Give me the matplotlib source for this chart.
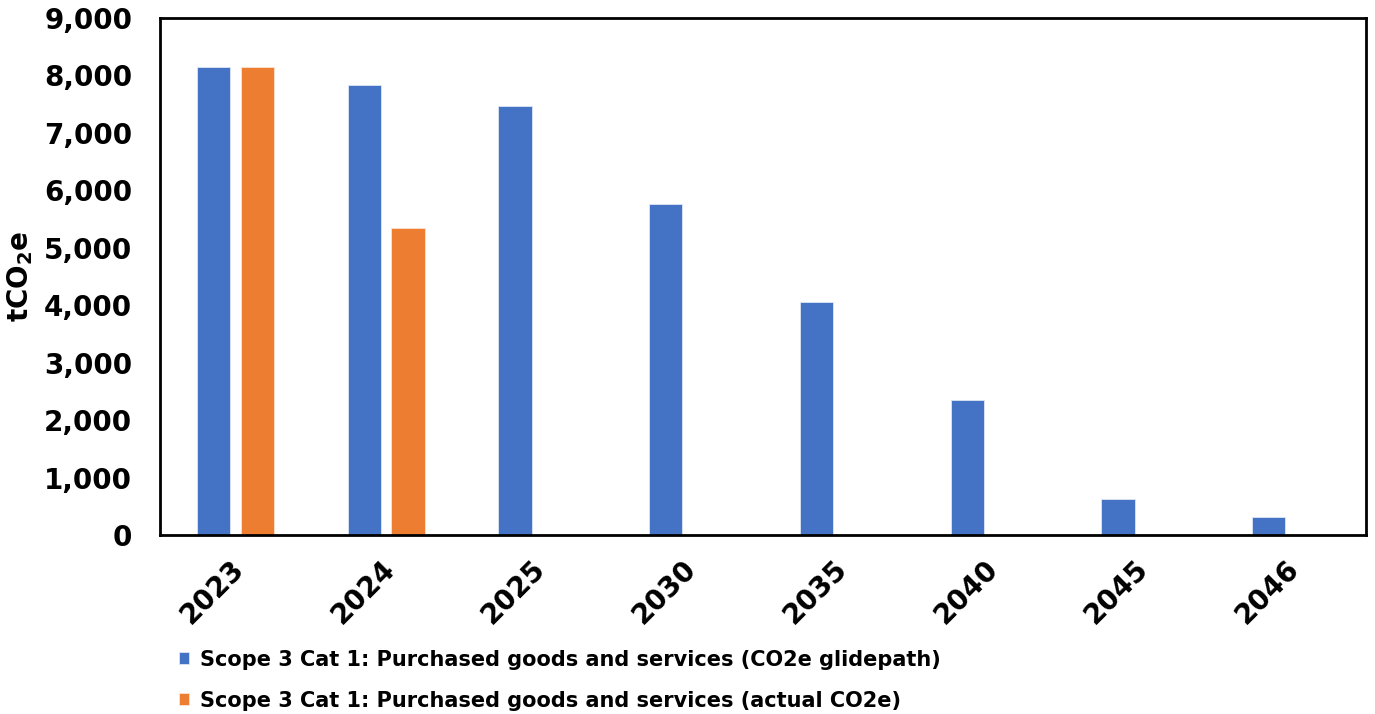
import matplotlib.pyplot as plt
import matplotlib.transforms as mtransforms
import numpy as np
from matplotlib.ticker import FuncFormatter

# chart values
years = ['2023', '2024', '2025', '2030', '2035', '2040', '2045', '2046']
glidepath = [8150, 7830, 7470, 5760, 4055, 2350, 630, 310]
actual = [8150, 5345, 0, 0, 0, 0, 0, 0]

blue = '#4472C4'
orange = '#ED7D31'

plt.rcParams['font.family'] = ['DejaVu Sans']
plt.rcParams['font.weight'] = 'bold'

fig = plt.figure(figsize=(13.75, 7.14), dpi=100)
ax = fig.add_axes([0.1164, 0.2507, 0.8771, 0.7241])

x = np.arange(len(years))
w = 0.22
ax.bar(x - 0.145, glidepath, w, color=blue, edgecolor='#dfe6f5', linewidth=0.6,
       label='Scope 3 Cat 1: Purchased goods and services (CO2e glidepath)')
ax.bar(x + 0.145, actual, w, color=orange, edgecolor='#fbe3d3', linewidth=0.6,
       label='Scope 3 Cat 1: Purchased goods and services (actual CO2e)')

ax.set_xlim(-0.5, len(years) - 0.5)
ax.set_ylim(0, 9000)
ax.set_yticks(range(0, 9001, 1000))
ax.yaxis.set_major_formatter(FuncFormatter(lambda v, p: f'{int(v):,}'))
ax.set_xticks(x)
ax.set_xticklabels(years, rotation=45, ha='right', rotation_mode='anchor')
ax.tick_params(axis='both', length=0, labelsize=20)
ax.tick_params(axis='y', pad=20)
ax.tick_params(axis='x', pad=14)

# nudge the rotated year labels a little left
shift = mtransforms.ScaledTranslation(-4 / 72, 0, fig.dpi_scale_trans)
for lab in ax.get_xticklabels():
    lab.set_transform(lab.get_transform() + shift)

for s in ax.spines.values():
    s.set_linewidth(2)
    s.set_color('black')

ax.set_ylabel('tCO$_\\mathbf{2}$e', fontsize=20, fontweight='bold')
ax.yaxis.set_label_coords(-0.104, 0.5)

fig.legend(loc='upper left', bbox_to_anchor=(0.13, 0.09), ncol=1, frameon=False,
           fontsize=15, handlelength=0.5, handleheight=0.5, handletextpad=0.5,
           labelspacing=1.0, borderaxespad=0, borderpad=0)

fig.savefig('out.png', dpi=100)
